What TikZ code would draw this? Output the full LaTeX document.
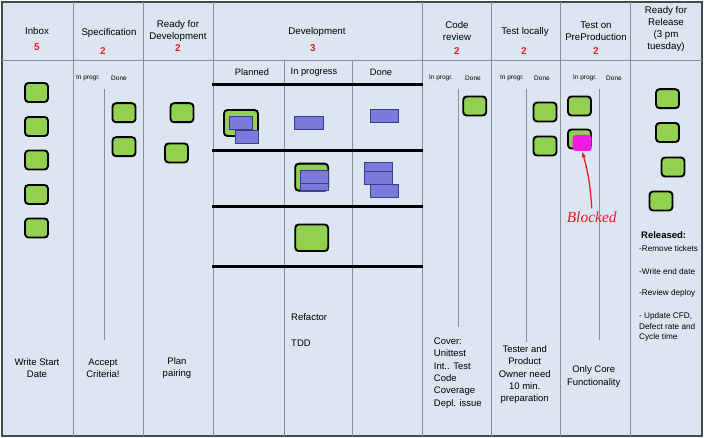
\documentclass[tikz,border=0pt]{standalone}
\usepackage{fontspec}
\setmainfont{Liberation Sans}
\newfontfamily\handfont{Liberation Serif}
\usetikzlibrary{arrows.meta,positioning}
\definecolor{boardbg}{HTML}{DCE6F0}
\definecolor{frame}{HTML}{454B52}
\definecolor{rule}{HTML}{8A9098}
\definecolor{cardgreen}{HTML}{92D050}
\definecolor{taskblue}{HTML}{7A7ADB}
\definecolor{taskedge}{HTML}{3C3C8C}
\definecolor{wiplimit}{HTML}{E3202A}
\definecolor{blockpink}{HTML}{F21BE6}

\begin{document}
\begin{tikzpicture}[x=1pt, y=-1pt, card/.style={rectangle,draw=black,fill=cardgreen,line width=1.9pt,rounded corners=3.5pt,minimum width=23pt,minimum height=19pt,inner sep=0pt}, bigcard/.style={card,minimum width=33pt,minimum height=26.5pt}, task/.style={rectangle,draw=taskedge,fill=taskblue,line width=0.6pt,minimum width=28.4pt,minimum height=13pt,inner sep=0pt}, head/.style={align=center,font=\fontsize{9.7}{12.2}\selectfont,inner sep=0pt}, limit/.style={text=wiplimit,font=\fontsize{10}{11}\selectfont\bfseries,inner sep=0pt}, sub/.style={font=\fontsize{6.5}{8}\selectfont,inner sep=0pt}, note/.style={align=center,font=\fontsize{9.5}{12.4}\selectfont,inner sep=0pt}, small/.style={align=left,anchor=west,font=\fontsize{8.2}{10.3}\selectfont,inner sep=0pt}, sep/.style={draw=rule,line width=0.8pt}, lane/.style={draw=black,line width=3pt}, line/.style={-{Latex[length=6pt,width=4.5pt]},draw=wiplimit,line width=1.3pt}]
\useasboundingbox (0,0) rectangle (704,438);
\filldraw[fill=boardbg,draw=frame,line width=1.5pt] (2,2) rectangle (702,436);
% columns
\foreach \x in {73,143,213,422,491,560,630} \draw[sep] (\x,2) -- (\x,436);
\draw[sep] (2,60) -- (702,60);
\foreach \x in {284,352} \draw[sep] (\x,60) -- (\x,436);
\foreach \x/\yb in {104/340,458/327,526/342,599/340} \draw[sep,line width=0.6pt] (\x,89) -- (\x,\yb);
\foreach \y in {85,151,207,267} \draw[lane] (212,\y) -- (423,\y);
% headers
\node[head] (inbox) at (37,31) {Inbox};
\node[limit] (inboxlim) at (37,47) {5};
\node[head] (spec) at (109,33) {Specification};
\node[limit] (speclim) at (103,51) {2};
\node[head] (ready) at (178,31) {Ready for\\Development};
\node[limit] (readylim) at (178,48) {2};
\node[head] (dev) at (317,32) {Development};
\node[limit] (devlim) at (313,48) {3};
\node[head] (review) at (457,31) {Code\\review};
\node[limit] (reviewlim) at (457,51.5) {2};
\node[head] (testloc) at (525,32) {Test locally};
\node[limit] (testloclim) at (524,51.5) {2};
\node[head] (testpre) at (596,31) {Test on\\PreProduction};
\node[limit] (testprelim) at (596,51.5) {2};
\node[head] (release) at (666,29) {Ready for\\Release\\(3 pm\\tuesday)};
\node[head,font=\fontsize{9.3}{11}\selectfont] (planned) at (252,72) {Planned};
\node[head,font=\fontsize{9.3}{11}\selectfont] (inprogress) at (314,72) {In progress};
\node[head,font=\fontsize{9.3}{11}\selectfont] (devdone) at (381,72) {Done};
\foreach \xa/\xb [count=\i] in {88/119,441/473,512/542,585/614} {
  \node[sub] (prog\i) at (\xa,78) {In progr.};
  \node[sub] (done\i) at (\xb,78) {Done};
}
% cards
\foreach \y [count=\i] in {92.5,126.5,160,194.5,228} \node[card] (inbox\i) at (36.5,\y) {};
\node[card] (spec1) at (124,112.7) {};
\node[card] (spec2) at (124,146.7) {};
\node[card] (ready1) at (182,112.7) {};
\node[card] (ready2) at (176.5,153) {};
\node[card] (review1) at (474.7,106) {};
\node[card] (testloc1) at (545,112) {};
\node[card] (testloc2) at (545,146) {};
\node[card] (testpre1) at (579.5,106) {};
\node[card] (testpre2) at (579.5,139) {};
\node[rectangle,fill=blockpink,rounded corners=3pt,minimum width=19pt,minimum height=16pt,inner sep=0pt] (blocker) at (582.2,143) {};
\node[card] (release1) at (667.5,98.7) {};
\node[card] (release2) at (667.5,132.5) {};
\node[card] (release3) at (673,167) {};
\node[card] (release4) at (661,201) {};
% development lanes
\node[bigcard,minimum width=34pt,minimum height=26pt] (story1) at (241,123) {};
\node[task,minimum width=23pt] (task1a) at (240.8,123) {};
\node[task,minimum width=23.5pt] (task1b) at (247,136.7) {};
\node[task] (task1c) at (308.8,122.7) {};
\node[task] (task1d) at (384,116.3) {};
\node[bigcard,minimum height=27pt] (story2) at (311.7,177.2) {};
\node[task] (task2b) at (314.3,184.3) {};
\node[task] (task2a) at (314.3,177.3) {};
\node[task] (task2c) at (378.3,169.3) {};
\node[task] (task2d) at (378.3,177.7) {};
\node[task] (task2e) at (384,191) {};
\node[bigcard] (story3) at (311.7,237.8) {};
% notes
\node[note] (inboxnote) at (37,368) {Write Start\\Date};
\node[note] (specnote) at (103,368) {Accept\\Criteria!};
\node[note] (readynote) at (177,368) {Plan\\pairing};
\node[note,anchor=west] (refactor) at (291,316.7) {Refactor};
\node[note,anchor=west] (tdd) at (291,343) {TDD};
\node[note,align=left,anchor=west] (reviewnote) at (433.7,373) {Cover:\\Unittest\\Int.. Test\\Code\\Coverage\\Depl. issue};
\node[note] (testlocnote) at (524.7,374.7) {Tester and\\Product\\Owner need\\10 min.\\preparation};
\node[note] (testprenote) at (593.7,376.7) {Only Core\\Functionality};
\node[small,font=\fontsize{9.5}{11}\selectfont\bfseries] (released) at (641,235) {Released:};
\node[small] (step1) at (639,249) {-Remove tickets};
\node[small] (step2) at (639,272) {-Write end date};
\node[small] (step3) at (639,293.5) {-Review deploy};
\node[small] (step4) at (639,327) {- Update CFD,\\Defect rate and\\Cycle time};
% blocked marker
\node[text=wiplimit,font=\handfont\itshape\fontsize{15.5}{17}\selectfont,inner sep=0pt] (blocked) at (591.7,217) {Blocked};
\coordinate[above=3pt of blocked] (blocktail);
\draw[line] (blocktail) to[bend right=6] (blocker.south);
\end{tikzpicture}
\end{document}
